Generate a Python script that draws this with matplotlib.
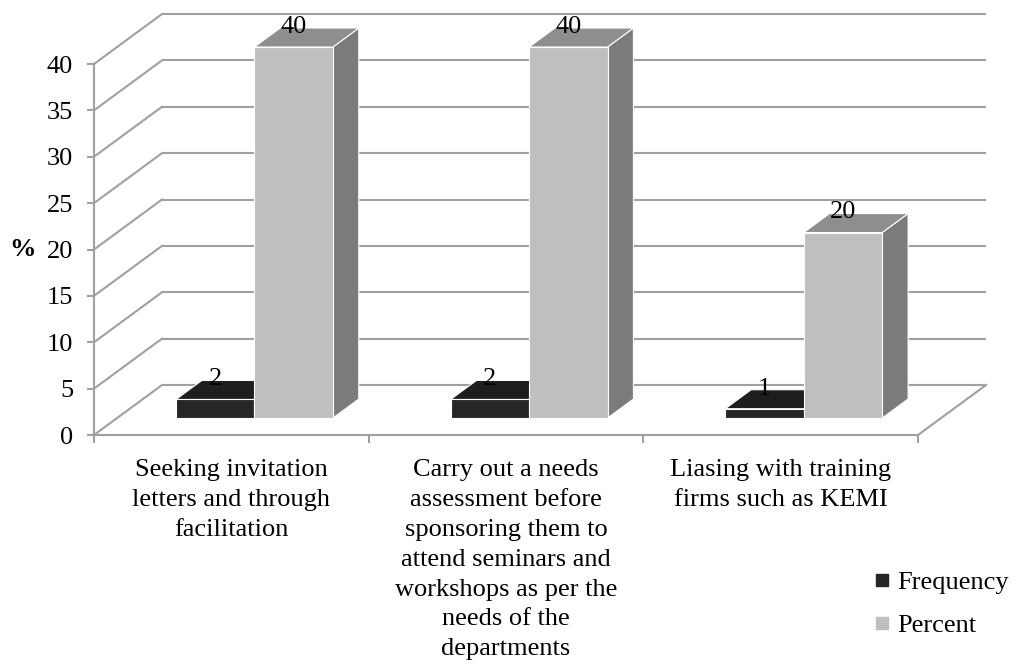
import matplotlib
matplotlib.use("Agg")
import matplotlib.pyplot as plt
from matplotlib.patches import Polygon
from matplotlib.lines import Line2D

plt.rcParams['font.family'] = ['Liberation Serif', 'DejaVu Serif']
plt.rcParams['font.size'] = 19

# ---- data ----
categories = [
    "Seeking invitation\nletters and through\nfacilitation",
    "Carry out a needs\nassessment before\nsponsoring them to\nattend seminars and\nworkshops as per the\nneeds of the\ndepartments",
    "Liasing with training\nfirms such as KEMI",
]
series_names = ["Frequency", "Percent"]
frequency = [2, 2, 1]
percent = [40, 40, 20]
y_ticks = [0, 5, 10, 15, 20, 25, 30, 35, 40]

# ---- style ----
grid_color = '#a0a0a0'
front_colors = ['#262626', '#bfbfbf']
top_colors = ['#1e1e1e', '#8e8e8e']
side_colors = ['#1a1a1a', '#7b7b7b']

fig = plt.figure(figsize=(10.2, 6.64), dpi=100)
ax = fig.add_axes([94 / 1020, (664 - 435) / 664, 824 / 1020, 371 / 664])
ax.set_xlim(-0.5, 2.5)
ax.set_ylim(0, 40)

# depth of the 3D box in data units
DX = 68 / 824 * 3
DY = 50 / 371 * 40
F0, F1 = 0.34, 0.72   # bar front / back depth fractions
W = 1 / 3.5           # bar width (gap width 150%)

x_lo, x_hi = ax.get_xlim()

# walls
for v in y_ticks:
    ax.plot([x_lo + DX, x_hi + DX], [v + DY, v + DY], color=grid_color,
            lw=1.5, clip_on=False, zorder=1, solid_capstyle='butt')
    ax.plot([x_lo, x_lo + DX], [v, v + DY], color=grid_color,
            lw=1.5, clip_on=False, zorder=1)
ax.plot([x_hi, x_hi + DX], [0, DY], color=grid_color, lw=1.5,
        clip_on=False, zorder=1)

# bars
series = [frequency, percent]
for i in range(len(categories)):
    for s, vals in enumerate(series):
        v = vals[i]
        x0 = i - W + s * W
        fx0 = x0 + F0 * DX
        fx1 = x0 + W + F0 * DX
        bx0 = x0 + F1 * DX
        bx1 = x0 + W + F1 * DX
        yb0 = F0 * DY
        yb1 = F1 * DY
        side = Polygon([(fx1, yb0), (bx1, yb1), (bx1, v + yb1), (fx1, v + yb0)],
                       closed=True, facecolor=side_colors[s], edgecolor='white',
                       lw=0.8, zorder=3 + 3 * s, clip_on=False)
        front = Polygon([(fx0, yb0), (fx1, yb0), (fx1, v + yb0), (fx0, v + yb0)],
                        closed=True, facecolor=front_colors[s], edgecolor='white',
                        lw=0.8, zorder=4 + 3 * s, clip_on=False)
        top = Polygon([(fx0, v + yb0), (fx1, v + yb0), (bx1, v + yb1), (bx0, v + yb1)],
                      closed=True, facecolor=top_colors[s], edgecolor='white',
                      lw=0.8, zorder=5 + 3 * s, clip_on=False)
        for p in (side, front, top):
            ax.add_patch(p)
        ax.annotate(str(v), xy=((fx0 + fx1) / 2, v + yb0), xytext=(0, 14.5),
                    textcoords='offset points', ha='center', va='center',
                    fontsize=19, zorder=20, annotation_clip=False)

# axes styling
for sp in ['top', 'right']:
    ax.spines[sp].set_visible(False)
for sp in ['left', 'bottom']:
    ax.spines[sp].set_color(grid_color)
    ax.spines[sp].set_linewidth(1.5)
    ax.spines[sp].set_zorder(2)

ax.set_yticks(y_ticks)
ax.tick_params(axis='y', length=5, width=1.5, color=grid_color, pad=10,
               labelsize=19)
ax.set_xticks(range(len(categories)))
ax.set_xticklabels(categories, linespacing=1.46)
ax.set_xticks([x_lo + k for k in range(len(categories) + 1)], minor=True)
ax.tick_params(axis='x', which='major', length=0, pad=17.5, labelsize=19)
ax.tick_params(axis='x', which='minor', length=6, width=1.5, color=grid_color)

ax.set_ylabel('%', rotation=0, fontweight='bold', ha='center', va='center')
ax.yaxis.set_label_coords((22 - 94) / 824, 0.5)

handles = [Line2D([0], [0], marker='s', linestyle='none', markersize=8,
                  markerfacecolor=front_colors[s], markeredgecolor=front_colors[s])
           for s in range(2)]
fig.legend(handles, series_names, loc='upper left',
           bbox_to_anchor=(876 / 1020, 1 - 571 / 664), frameon=False,
           borderpad=0, borderaxespad=0, handlelength=0.45,
           handletextpad=0.34, labelspacing=0.73, fontsize=19)

fig.savefig('out.png', dpi=100)
